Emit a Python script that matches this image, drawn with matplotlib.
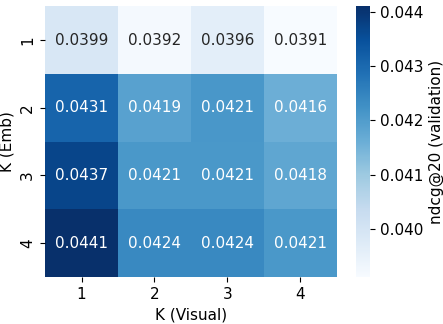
import numpy as np
import pandas as pd
import matplotlib
matplotlib.use("Agg")
import matplotlib.pyplot as plt
import seaborn as sns

k_visual = [1, 2, 3, 4]
k_emb = [1, 2, 3, 4]
ndcg = [
    [0.03990, 0.03920, 0.03960, 0.03911],
    [0.04310, 0.04190, 0.04212, 0.04160],
    [0.04370, 0.04210, 0.04210, 0.04180],
    [0.04411, 0.04240, 0.04240, 0.04210],
]

df = pd.DataFrame(ndcg, index=k_emb, columns=k_visual)

plt.rcParams['font.size'] = 11
fig = plt.figure(figsize=(4.43, 3.24), dpi=100)
ax = fig.add_axes([0.1016, 0.145, 0.659, 0.836])
cax = fig.add_axes([0.804, 0.145, 0.032, 0.836])

sns.heatmap(df, annot=True, fmt=".4f", cmap="Blues", ax=ax, cbar_ax=cax,
            annot_kws={"fontsize": 11},
            cbar_kws={"label": "ndcg@20 (validation)"})
ax.set_xlabel("K (Visual)")
ax.set_ylabel("K (Emb)")
ax.set_yticklabels(ax.get_yticklabels(), rotation=90, va="center")
cax.set_yticks([0.040, 0.041, 0.042, 0.043, 0.044])
cax.set_yticklabels(["0.040", "0.041", "0.042", "0.043", "0.044"])

fig.savefig("out.png", dpi=100)
